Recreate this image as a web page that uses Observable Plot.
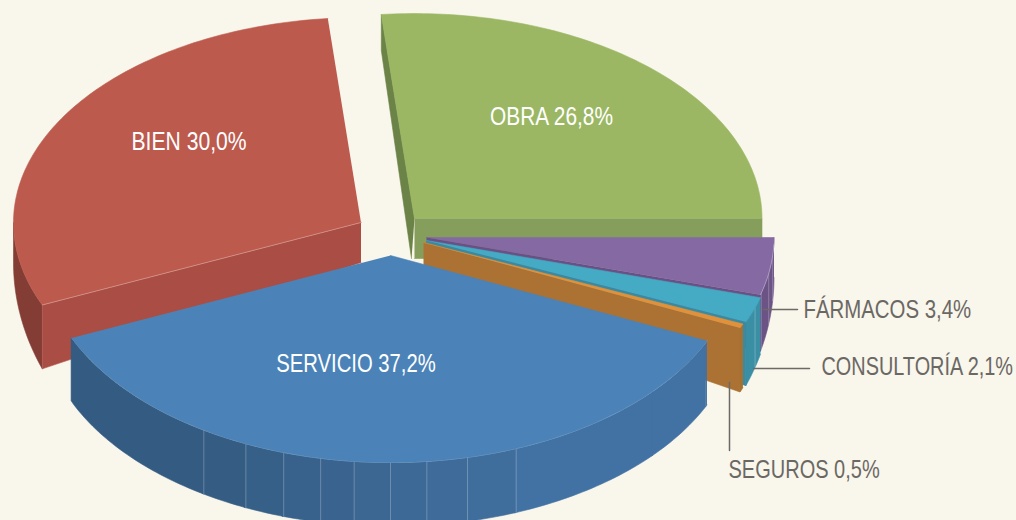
<!DOCTYPE html>
<html><head><meta charset="utf-8">
<script src="https://cdn.jsdelivr.net/npm/d3@7"></script>
<script src="https://cdn.jsdelivr.net/npm/@observablehq/plot@0.6"></script>
<style>html,body{margin:0;padding:0;background:#f9f6ec;overflow:hidden}</style>
</head><body><div id="chart"></div>
<script>
const categories = ["FÁRMACOS","CONSULTORÍA","SEGUROS","SERVICIO","BIEN","OBRA"];
const shares = [3.4,2.1,0.5,37.2,30.0,26.8];

const W = 1016, H = 520, RX = 347.5, RY = 207;
// Calibrates the flat pie angle to the angle seen through the chart's 3D camera
const camera = d3.scaleLinear().domain([90,102.2,109.8,111.6,245.5,353.5,450]).range([90,106,113.2,114.4,246.5,354.5,450]);
const pieAngles = d3.pie().sort(null).startAngle(Math.PI/2).endAngle(Math.PI/2+2*Math.PI)(shares);
const deg = r => r*180/Math.PI;
const arcs = Object.fromEntries(categories.map((c,i)=>[c,{name:c,value:shares[i],a0:camera(deg(pieAngles[i].startAngle)),a1:camera(deg(pieAngles[i].endAngle))}]));

const style = {
  "OBRA":{c:[414,218],top:"#9bb763",rim:"#869e5c",w0:"#6c8347",w1:"#869e5c",lean:3},
  "BIEN":{c:[360.5,222],top:"#bd5a4e",rim:"#843d35",w0:"#aa4e45"},
  "FÁRMACOS":{c:[426,237],top:"#8469a2",rim:"#6b5386",w1:"#6a5185",lines:[95,100,105.6]},
  "CONSULTORÍA":{c:[426,240],top:"#45aac4",rim:"#3a8fa5",w1:"#3b8aa0",lines:[109]},
  "SEGUROS":{c:[423,242],top:"#e2913b",rim:"#a8702f",w1:"#ab7233"},
  "SERVICIO":{c:[390,255],top:"#4b83b8",rim:"#4272a3",
    facets:[115,131,158.8,167.2,174,180,186,191.6,197.9,204.6,212.5,246.5]}
};
const depth = dy => Math.max(36,Math.min(64,40+24*dy/83));
const pt = (c,t) => { const r=t*Math.PI/180, dy=-RY*Math.cos(r)*(Math.cos(r)>0?0.99:1);
  return {x:c[0]+RX*Math.sin(r), y:c[1]+dy, d:depth(dy)}; };
const down = p => ({x:p.x,y:p.y+p.d});
const sweep = (c,a,b) => { const n=Math.max(2,Math.ceil(Math.abs(b-a))+1);
  return d3.range(n).map(i=>pt(c,a+(b-a)*i/(n-1))); };
const face = (pts,fill,o={}) => Plot.line(pts,{x:"x",y:"y",fill,stroke:fill,strokeWidth:0.6,curve:"linear",...o});
const edge = (pts,o={}) => Plot.line(pts,{x:"x",y:"y",stroke:"#ffffff",strokeOpacity:0.35,strokeWidth:1,curve:"linear",...o});
const wall = (c,t,fill,lean=0) => { const p=pt(c,t), a={x:c[0],y:c[1],d:40};
  return face([a,p,down(p),{x:a.x-lean,y:a.y+a.d}],fill); };
const band = (c,a,b,fill) => { const top=sweep(c,a,b); return face([...top,...top.slice().reverse().map(down)],fill); };

const marks = [];
function slice(name){
  const a=arcs[name], s=style[name], c=s.c;
  const lo=Math.max(a.a0,90), hi=Math.min(a.a1,270);
  if (s.facets){
    const ramp=d3.interpolateRgb("#345b81","#4272a3");
    const n=s.facets.length-1;
    s.facets.slice(0,-1).forEach((t,i)=>{
      const f=ramp((n-1-i)/(n-1));
      marks.push(band(c,t,s.facets[i+1]+0.3,i<2?"#4272a3":f));
    });
    marks.push(band(c,lo,s.facets[0],"#4272a3"));
    s.facets.slice(2,-1).forEach(t=>{const p=pt(c,t);marks.push(edge([p,down(p)],{strokeOpacity:0.25}));});
    marks.push(edge(sweep(c,lo,a.a1)));
  } else if (hi>lo) {
    marks.push(band(c,lo,hi,s.rim));
    (s.lines||[]).forEach(t=>{const p=pt(c,t);marks.push(edge([p,down(p)],{strokeOpacity:0.25}));});
  }
  if (s.w0) marks.push(wall(c,a.a0,s.w0,s.lean||0));
  if (s.w1) marks.push(wall(c,a.a1,s.w1));
  marks.push(face([{x:c[0],y:c[1]},...sweep(c,a.a0,a.a1)],s.top));
  if (name==="BIEN"){ const p=pt(c,a.a0); marks.push(edge([{x:c[0],y:c[1]},p],{strokeOpacity:0.3})); }
  if (name==="FÁRMACOS") marks.push(edge(sweep(c,a.a0+2,a.a1),{strokeOpacity:0.3}));
}
["OBRA","BIEN","FÁRMACOS","CONSULTORÍA","SEGUROS","SERVICIO"].forEach(slice);

const label = n => `${n} ${String(arcs[n].value.toFixed(1)).replace(".",",")}%`;
const inside = [["BIEN",188.5,141],["OBRA",551,116],["SERVICIO",355.5,363]].map(([n,x,y])=>({t:label(n),x,y}));
const outside = [["FÁRMACOS",803,309],["CONSULTORÍA",821,366],["SEGUROS",728,469]].map(([n,x,y])=>({t:label(n),x,y}));
const leaders = [[{x:763,y:309},{x:797,y:309}],[{x:753,y:368},{x:809,y:368}],[{x:729,y:382},{x:729,y:450}]];
leaders.forEach(l=>marks.push(Plot.line(l,{x:"x",y:"y",stroke:"#6d6a66",strokeWidth:1.5})));
const font = {fontFamily:"'Liberation Sans',sans-serif",fontSize:25};
marks.push(Plot.text(inside,{x:"x",y:"y",text:"t",fill:"#fff",textAnchor:"middle",...font}));
marks.push(Plot.text(outside,{x:"x",y:"y",text:"t",fill:"#6b6864",textAnchor:"start",...font}));

const svg = Plot.plot({
  width:W,height:H,margin:0,
  style:{background:"#f9f6ec",overflow:"hidden"},
  x:{domain:[0,W],range:[0,W],axis:null},
  y:{domain:[0,H],range:[0,H],axis:null},
  marks
});
document.getElementById("chart").append(svg);
// The reference type is a condensed face: squeeze the glyphs, no narrow family is installed
const squeeze = {"BIEN":0.845,"OBRA":0.835,"SERVICIO":0.81,"FÁRMACOS":0.815,"CONSULTORÍA":0.795,"SEGUROS":0.80};
svg.querySelectorAll("text").forEach(t=>{
  const k = squeeze[t.textContent.split(" ")[0]] || 0.82;
  t.setAttribute("lengthAdjust","spacingAndGlyphs");
  t.setAttribute("textLength",(t.getComputedTextLength()*k).toFixed(1));
});
</script></body></html>
